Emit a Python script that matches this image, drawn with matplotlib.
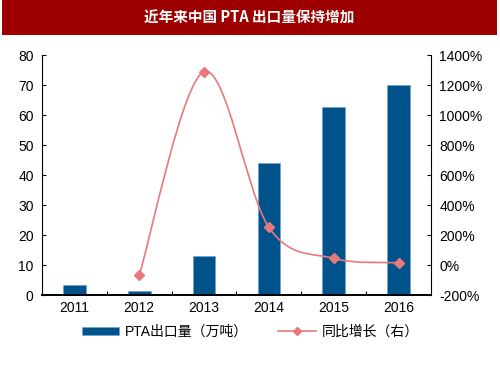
import numpy as np
import matplotlib
matplotlib.use("Agg")
import matplotlib.pyplot as plt
from matplotlib.patches import Rectangle
from matplotlib.lines import Line2D
from matplotlib.path import Path
from matplotlib.patches import PathPatch

plt.rcParams['font.family'] = ['Liberation Sans', 'Noto Sans CJK SC', 'DejaVu Sans']

# data
years = ['2011', '2012', '2013', '2014', '2015', '2016']
export_vol = [3.2, 1.4, 13.0, 44.1, 62.6, 70.0]          # PTA出口量（万吨）
yoy_x = [1, 2, 3, 4, 5]                                  # index into years
yoy_pct = [-67, 1289, 251, 44, 15]                       # 同比增长（右）, %

BAR_C = '#00538A'
LINE_C = '#E8797B'

fig = plt.figure(figsize=(5, 3.75), dpi=100)

# title banner
fig.patches.append(Rectangle((0.004, 0.907), 0.99, 0.093, transform=fig.transFigure,
                             facecolor='#9C0000', edgecolor='none', zorder=0))
fig.text(0.498, 0.953, '近年来中国 PTA 出口量保持增加', color='white', fontsize=10.5,
         ha='center', va='center', family=['Noto Sans CJK SC'], fontweight='bold')

ax = fig.add_axes([0.084, 0.2133, 0.778, 0.64])
x = np.arange(len(years))
ax.bar(x, export_vol, width=0.35, color=BAR_C, edgecolor='#6FA3CF', linewidth=0.5, zorder=2)
ax.set_xlim(-0.5, len(years) - 0.5)
ax.set_ylim(0, 80)
ax.set_yticks(range(0, 81, 10))
ax.set_xticks(x)
ax.set_xticklabels(years)
ax.set_xticks(np.arange(0.5, len(years) - 0.5, 1), minor=True)
ax.tick_params(axis='x', which='major', length=0, pad=4, labelsize=10)
ax.tick_params(axis='x', which='minor', direction='in', length=3, width=0.8)
ax.tick_params(axis='y', direction='in', length=3, width=0.8, labelsize=10, pad=6)
ax.spines['top'].set_visible(False)
ax.spines['right'].set_visible(False)
ax.spines['bottom'].set_linewidth(1.4)
ax.spines['left'].set_linewidth(0.8)

ax2 = ax.twinx()
ax2.set_ylim(-200, 1400)
ax2.set_yticks(range(-200, 1401, 200))
ax2.set_yticklabels([f'{v}%' for v in range(-200, 1401, 200)])
ax2.tick_params(axis='y', direction='in', length=3, width=0.8, labelsize=10, pad=6)
for s in ['top', 'left', 'bottom']:
    ax2.spines[s].set_visible(False)
ax2.spines['right'].set_linewidth(0.8)

# smoothed line (Bezier through the points, like a spreadsheet smooth line)
px = np.array(yoy_x, float)
py = np.array(yoy_pct, float)
verts = [(px[0], py[0])]
codes = [Path.MOVETO]
n = len(px)
for i in range(n - 1):
    p0 = (px[i - 1], py[i - 1]) if i > 0 else (px[i], py[i])
    p1 = (px[i], py[i])
    p2 = (px[i + 1], py[i + 1])
    p3 = (px[i + 2], py[i + 2]) if i + 2 < n else p2
    c1 = (p1[0] + (p2[0] - p0[0]) / 6, p1[1] + (p2[1] - p0[1]) / 6)
    c2 = (p2[0] - (p3[0] - p1[0]) / 6, p2[1] - (p3[1] - p1[1]) / 6)
    verts += [c1, c2, p2]
    codes += [Path.CURVE4] * 3
ax2.add_patch(PathPatch(Path(verts, codes), facecolor='none', edgecolor=LINE_C,
                        linewidth=1.2, zorder=3))
ax2.plot(px, py, linestyle='none', marker='D', markersize=5, color=LINE_C, zorder=4)

handles = [Rectangle((0, 0), 1, 1, facecolor=BAR_C, edgecolor='#6FA3CF', linewidth=0.5),
           Line2D([], [], color=LINE_C, marker='D', markersize=4, linewidth=1.2)]
fig.legend(handles, ['PTA出口量（万吨）', '同比增长（右）'], loc='center',
           bbox_to_anchor=(0.5, 0.115), ncol=2, frameon=False,
           handlelength=2.7, handleheight=0.6, handletextpad=0.4, columnspacing=2.2,
           prop={'family': ['Liberation Sans', 'Noto Sans CJK SC'], 'size': 10})

fig.savefig('out.png', dpi=100)
